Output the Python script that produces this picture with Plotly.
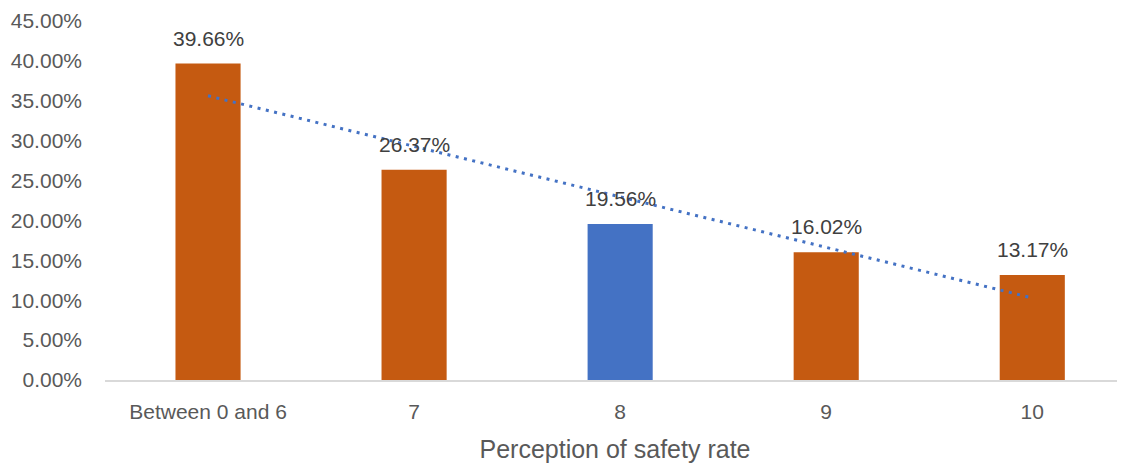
import numpy as np
import plotly.graph_objects as go

categories = ["Between 0 and 6", "7", "8", "9", "10"]
values = [39.66, 26.37, 19.56, 16.02, 13.17]
bar_colors = ["#C55A11", "#C55A11", "#4472C4", "#C55A11", "#C55A11"]
y_ticks = [0, 5, 10, 15, 20, 25, 30, 35, 40, 45]
y_tick_labels = [f"{v:.2f}%" for v in y_ticks]
x_title = "Perception of safety rate"

FONT = "Liberation Sans, Arial, sans-serif"

# linear trendline (least squares, as in the spreadsheet trendline)
xi = np.arange(len(values))
slope, intercept = np.polyfit(xi, values, 1)
trend = [intercept + slope * i for i in xi]

fig = go.Figure()
fig.add_trace(go.Bar(
    x=categories, y=values, marker_color=bar_colors, marker_line_width=0,
    hoverinfo="skip", showlegend=False,
))
fig.add_trace(go.Scatter(
    x=categories, y=trend, mode="lines",
    line=dict(color="#4472C4", width=3, dash="3px,5.5px"),
    hoverinfo="skip", showlegend=False,
))

for i, v in enumerate(values):
    fig.add_annotation(
        x=i, y=v, xref="x", yref="y", text=f"{v:.2f}%", showarrow=False,
        yanchor="bottom", yshift=12,
        font=dict(family=FONT, size=21, color="#404040"),
    )

fig.update_layout(
    width=1117, height=455,
    margin=dict(l=97, r=0, t=13, b=83),
    paper_bgcolor="white", plot_bgcolor="white",
    bargap=0.684,
    font=dict(family=FONT, size=21, color="#595959"),
    xaxis=dict(
        type="category", range=[-0.5, 4.45],
        showgrid=False, showline=True, linecolor="#D9D9D9", linewidth=1.5,
        ticks="", ticklabelstandoff=12,
        tickfont=dict(family=FONT, size=21, color="#595959"),
        title=dict(text=x_title, standoff=20,
                   font=dict(family=FONT, size=25, color="#595959")),
        automargin=False,
    ),
    yaxis=dict(
        range=[0, 45], tickvals=y_ticks, ticktext=y_tick_labels,
        showgrid=False, showline=False, zeroline=False,
        ticks="", ticklabelstandoff=22,
        tickfont=dict(family=FONT, size=21, color="#595959"),
        automargin=False,
    ),
)

fig.write_html("out.html")
